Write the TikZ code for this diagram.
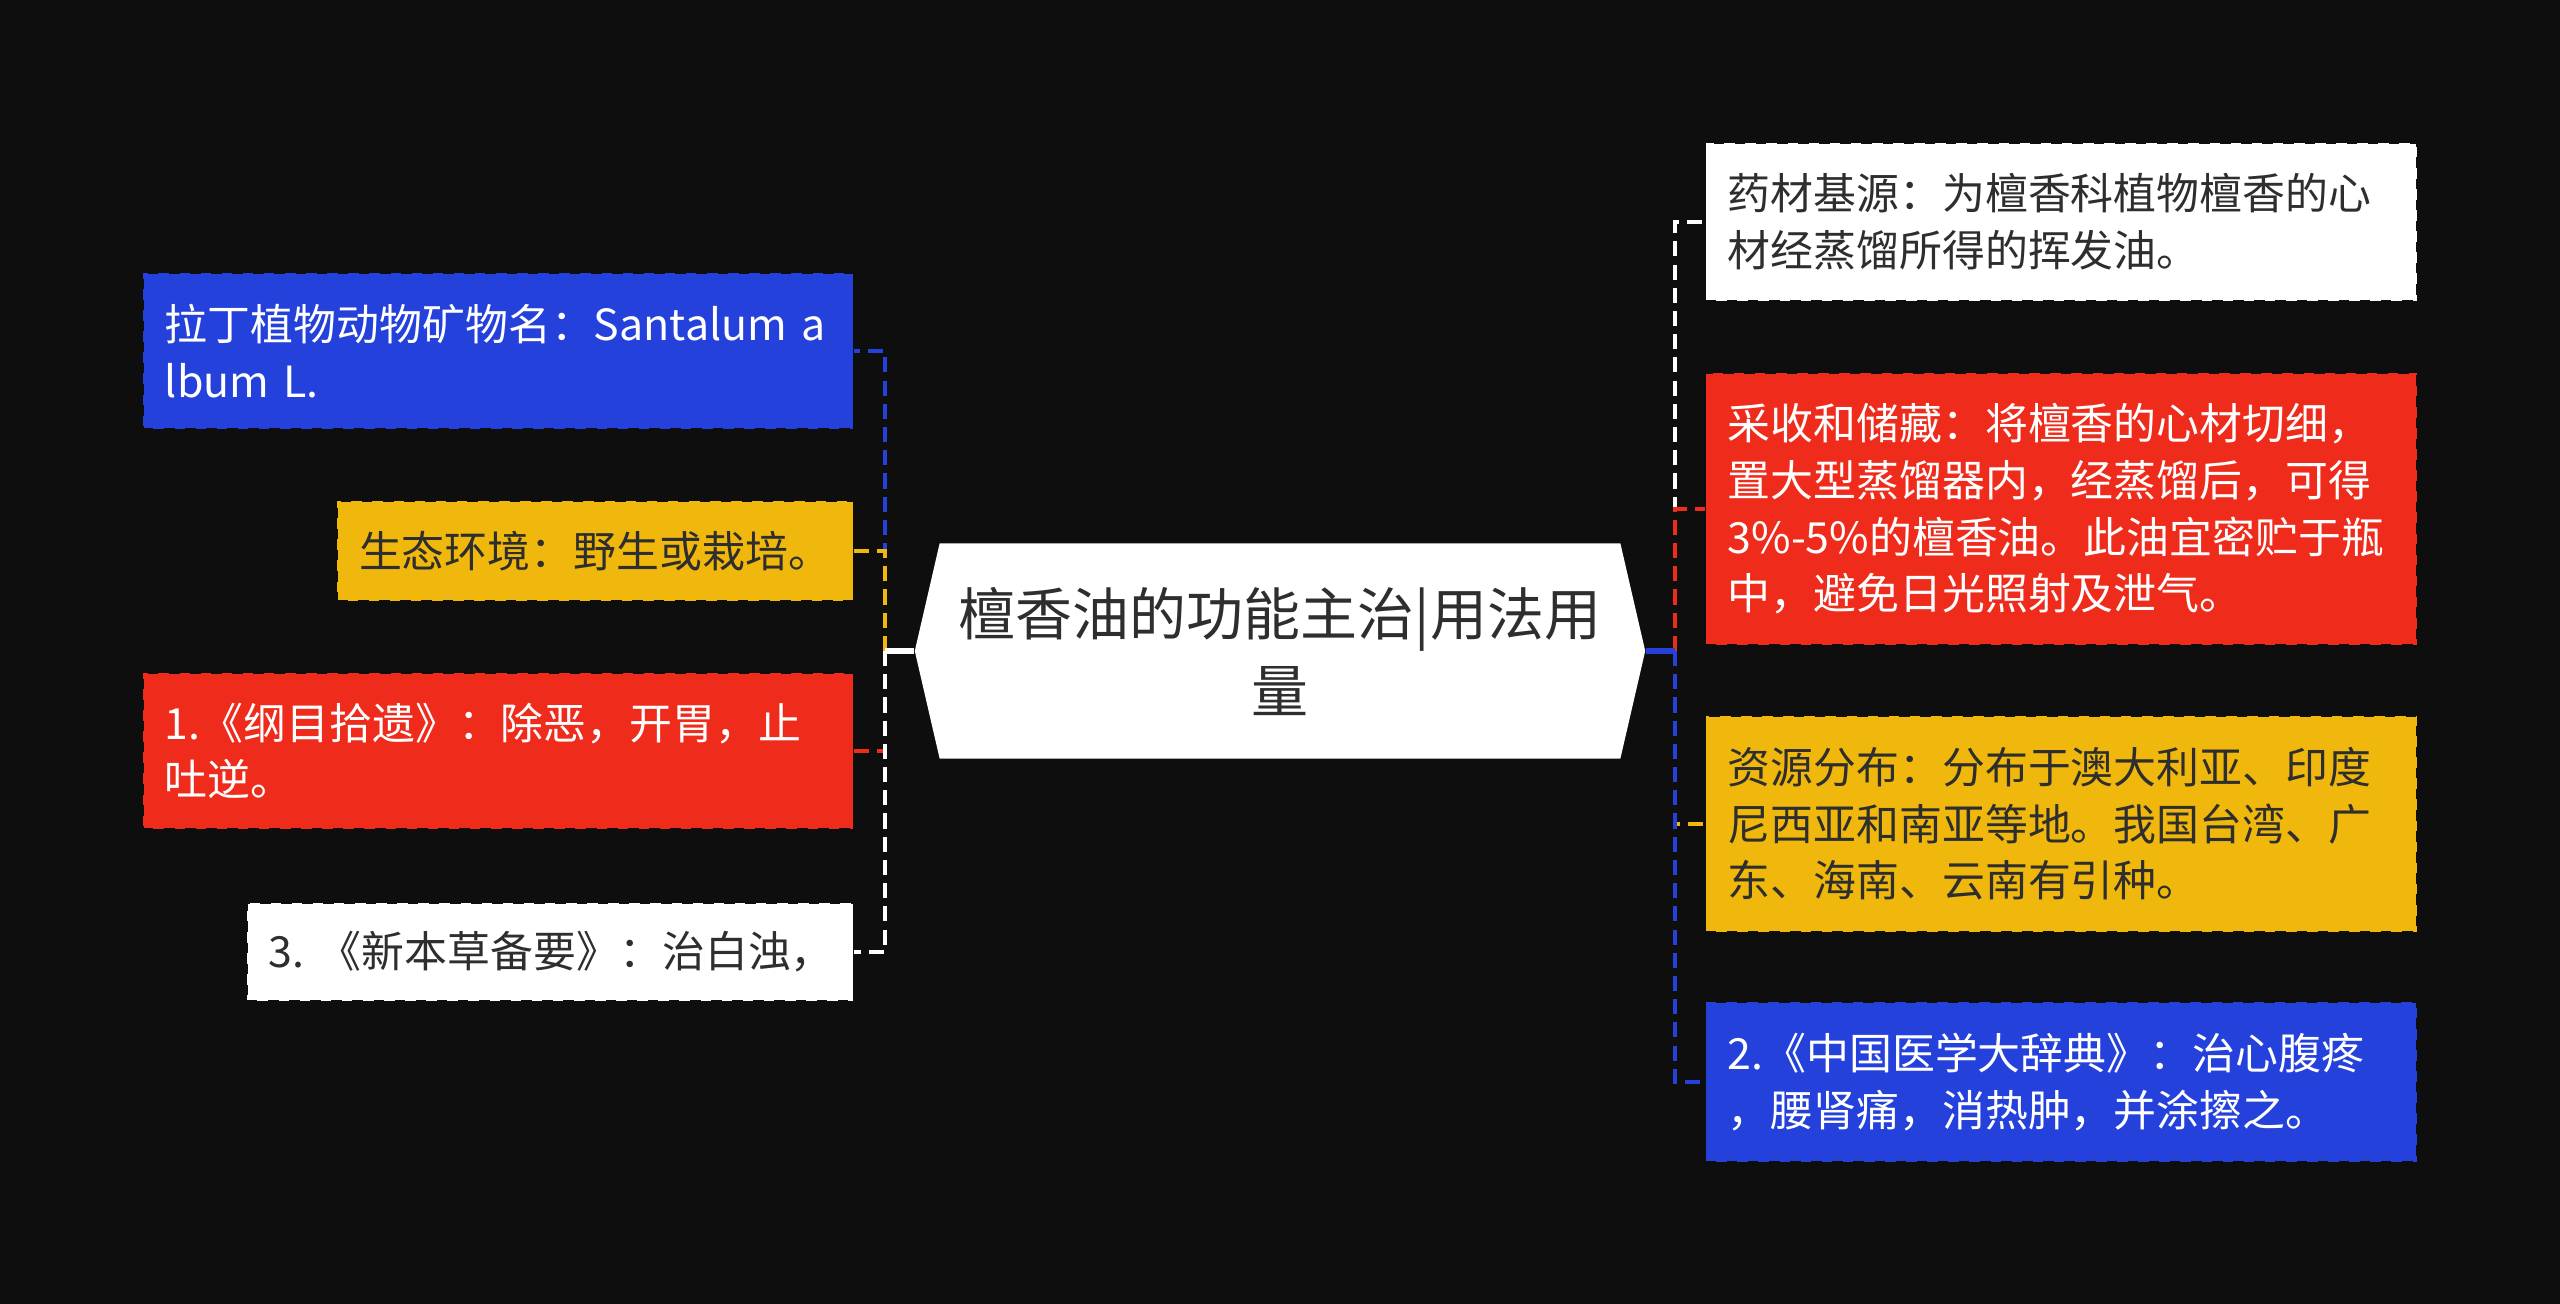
\documentclass[tikz,border=0pt]{standalone}
\usepackage{fontspec}
\setmainfont{Noto Sans CJK SC}
\usepackage{tikz}
\usetikzlibrary{shapes.symbols}
\definecolor{bgdark}{RGB}{14,14,14}
\definecolor{mapblue}{RGB}{37,65,219}
\definecolor{mapred}{RGB}{239,43,28}
\definecolor{mapyellow}{RGB}{240,184,12}
\definecolor{maptext}{RGB}{46,46,46}

\begin{document}
\begin{tikzpicture}[x=0.01cm, y=-0.01cm,
    leaf/.style={rectangle, inner xsep=0.22cm, inner ysep=0pt, align=left,
      font=\fontsize{12.2pt}{16.1pt}\selectfont, draw=bgdark, dashed, line width=0.4pt},
    link/.style={dash pattern=on 4.3pt off 2.3pt, line width=1.25pt},
    stub/.style={line width=1.6pt}]
    % background
    \fill[bgdark] (0,0) rectangle (2560,1304);
    % root
    \node[signal, signal to=west and east, signal pointer angle=154, fill=white, text=maptext,
      minimum width=7.3cm, minimum height=2.15cm, inner sep=0pt, align=center,
      font=\fontsize{16.2pt}{21.9pt}\selectfont] (root) at (1280,651) {檀香油的功能主治|用法用\\量};
    \coordinate (lbus) at (885,651);
    \coordinate (rbus) at (1675,651);
    % left side
    \node[leaf, fill=mapblue, text=white, text width=6.66cm, minimum height=1.56cm, anchor=east]
      (latin) at (854,351) {拉丁植物动物矿物名：Santalum a\\lbum L.};
    \node[leaf, fill=mapyellow, text=maptext, text width=4.72cm, minimum height=1.0cm, anchor=east]
      (habitat) at (854,551) {生态环境：野生或栽培。};
    \node[leaf, fill=mapred, text=white, text width=6.66cm, minimum height=1.56cm, anchor=east]
      (gangmu) at (854,751) {1.《纲目拾遗》：除恶，开胃，止\\吐逆。};
    \node[leaf, fill=white, text=maptext, text width=5.62cm, minimum height=0.98cm, anchor=east]
      (bencao) at (854,952) {3.~《新本草备要》：治白浊，};
    % right side
    \node[leaf, fill=white, text=maptext, text width=6.67cm, minimum height=1.57cm, anchor=west]
      (source) at (1705,222) {药材基源：为檀香科植物檀香的心\\材经蒸馏所得的挥发油。};
    \node[leaf, fill=mapred, text=white, text width=6.67cm, minimum height=2.72cm, anchor=west]
      (harvest) at (1705,509) {采收和储藏：将檀香的心材切细，\\置大型蒸馏器内，经蒸馏后，可得\\3\%-5\%的檀香油。此油宜密贮于瓶\\中，避免日光照射及泄气。};
    \node[leaf, fill=mapyellow, text=maptext, text width=6.67cm, minimum height=2.16cm, anchor=west]
      (region) at (1705,824) {资源分布：分布于澳大利亚、印度\\尼西亚和南亚等地。我国台湾、广\\东、海南、云南有引种。};
    \node[leaf, fill=mapblue, text=white, text width=6.67cm, minimum height=1.59cm, anchor=west]
      (cidian) at (1705,1082) {2.《中国医学大辞典》：治心腹疼\\，腰肾痛，消热肿，并涂擦之。};
    % connectors
    \foreach \leaf/\col in {latin/mapblue, habitat/mapyellow, gangmu/mapred, bencao/white}
      {\draw[stub, \col] (root.west) -- (lbus);
       \draw[link, \col] (lbus) |- (\leaf.east);}
    \foreach \leaf/\col in {source/white, harvest/mapred, region/mapyellow, cidian/mapblue}
      {\draw[stub, \col] (root.east) -- (rbus);
       \draw[link, \col] (rbus) |- (\leaf.west);}
\end{tikzpicture}
\end{document}
